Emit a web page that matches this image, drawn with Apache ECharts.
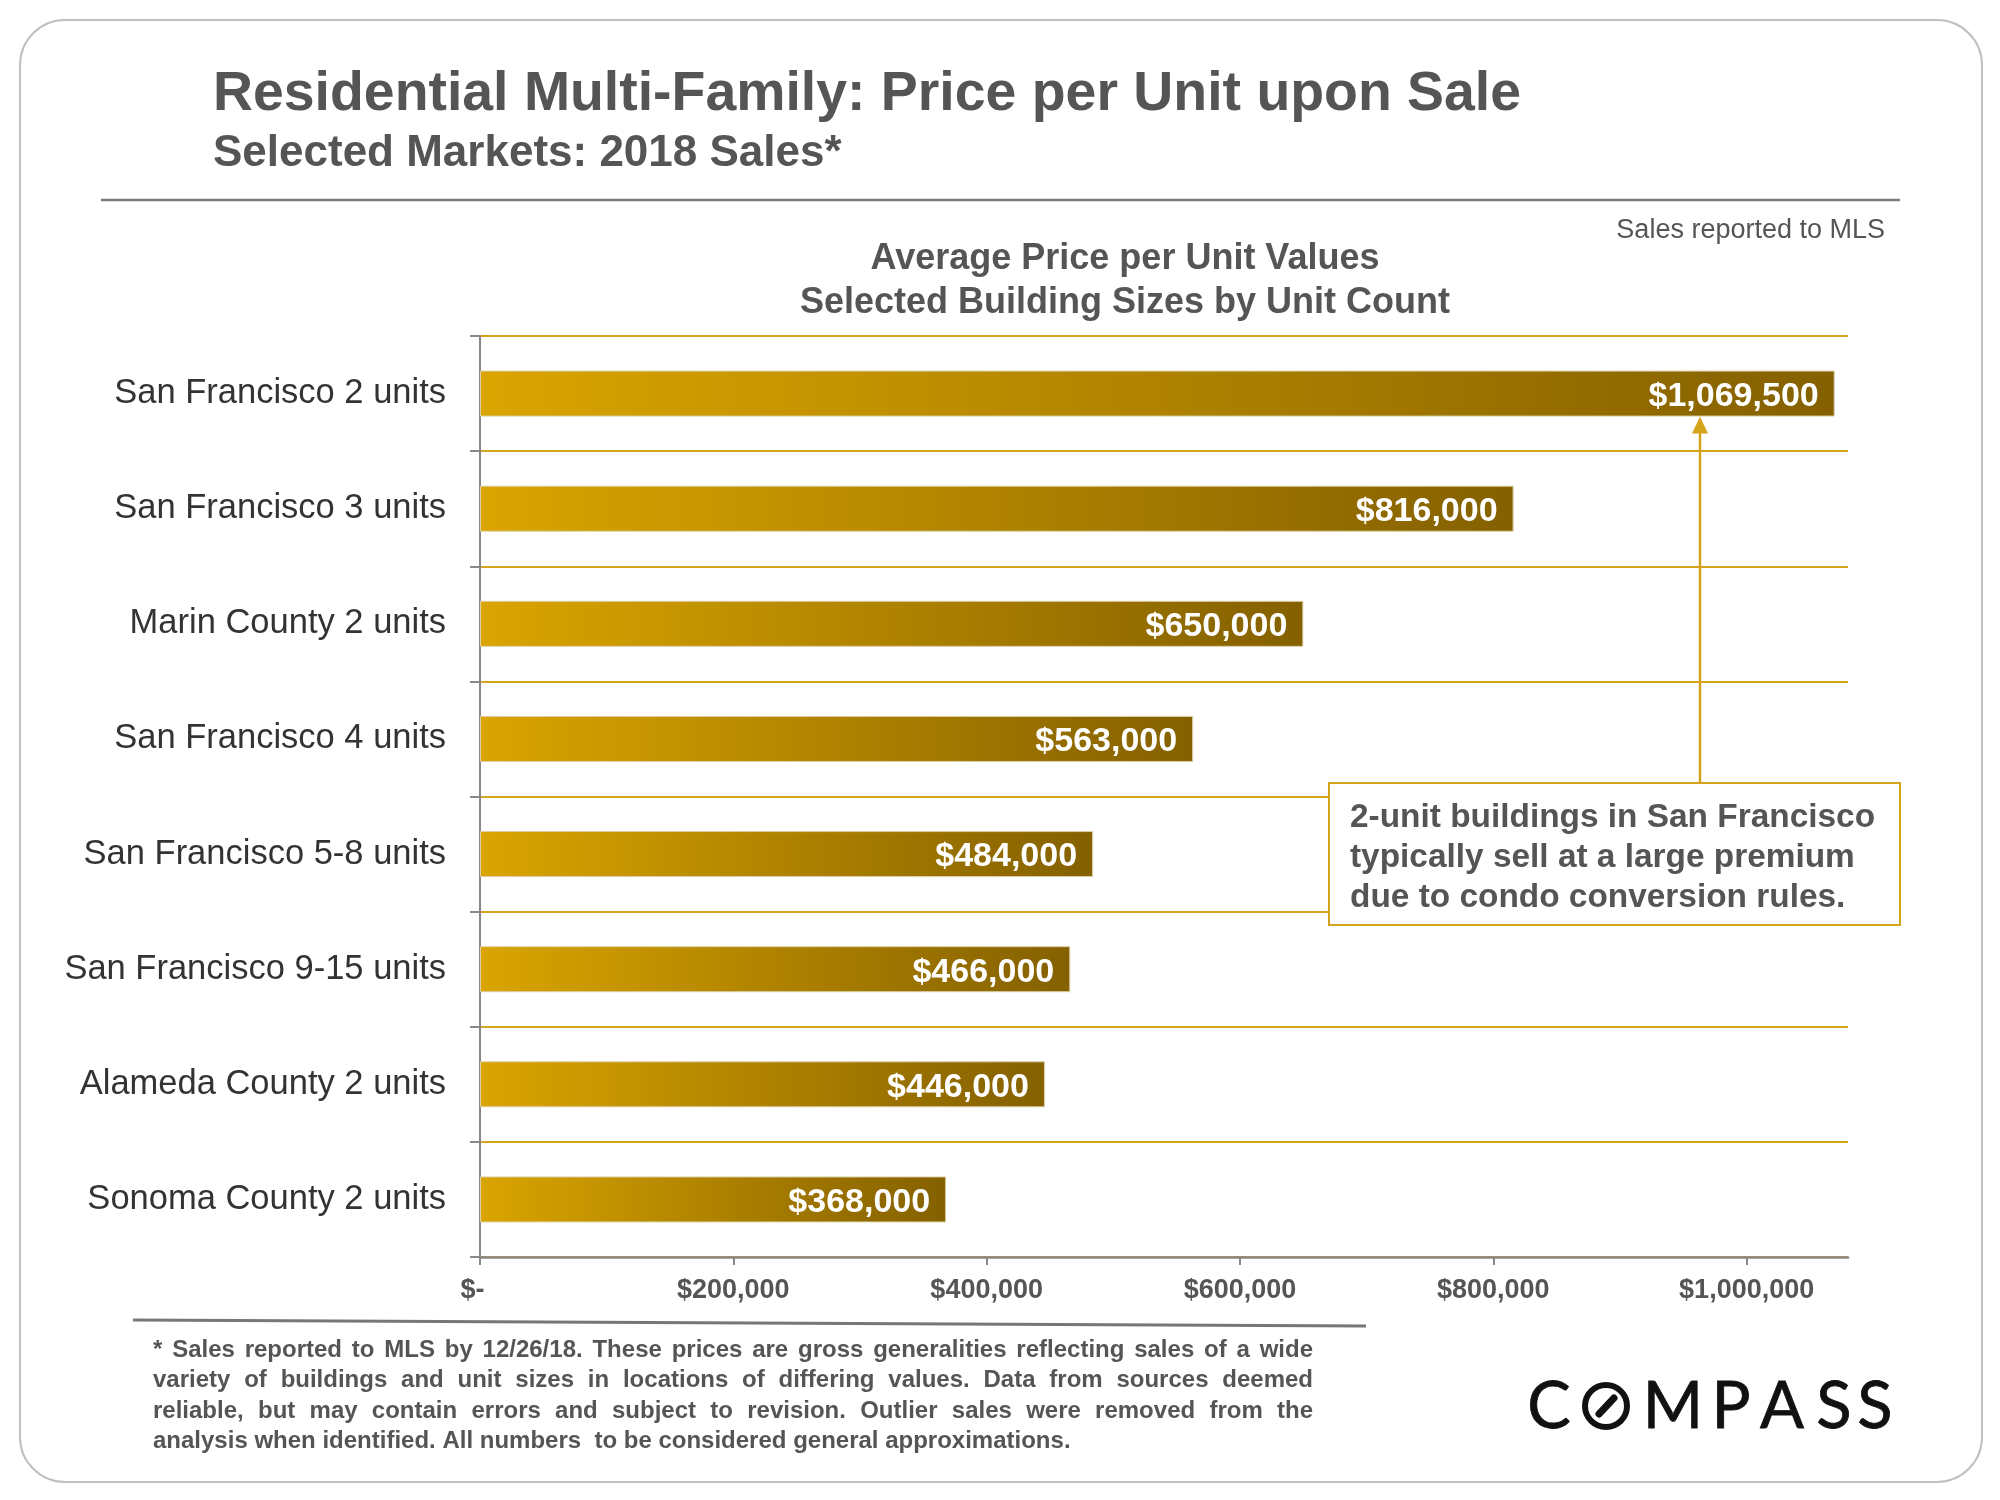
<!DOCTYPE html>
<html>
<head>
<meta charset="utf-8">
<script src="https://cdn.jsdelivr.net/npm/echarts@6/dist/echarts.min.js"></script>
<style>
html,body{margin:0;padding:0;background:#fff;}
#chart{width:2000px;height:1500px;}
</style>
</head>
<body>
<div id="chart"></div>
<script>
const categories = [
  'San Francisco 2 units',
  'San Francisco 3 units',
  'Marin County 2 units',
  'San Francisco 4 units',
  'San Francisco 5-8 units',
  'San Francisco 9-15 units',
  'Alameda County 2 units',
  'Sonoma County 2 units'
];
const values = [1069500, 816000, 650000, 563000, 484000, 466000, 446000, 368000];
const xTickValues = [0, 200000, 400000, 600000, 800000, 1000000];
const xTickLabels = ['$-  ', '$200,000', '$400,000', '$600,000', '$800,000', '$1,000,000'];

const titleText = 'Residential Multi-Family: Price per Unit upon Sale';
const subtitleText = 'Selected Markets: 2018 Sales*';
const chartTitleLines = ['Average Price per Unit Values', 'Selected Building Sizes by Unit Count'];
const sourceNote = 'Sales reported to MLS';
const annotationLines = ['2-unit buildings in San Francisco', 'typically sell at a large premium', 'due to condo conversion rules.'];
const footnoteLines = [
  '* Sales reported to MLS by 12/26/18. These prices are gross generalities reflecting sales of a wide',
  'variety of buildings and unit sizes in locations of differing values. Data from sources deemed',
  'reliable, but may contain errors and subject to revision. Outlier sales were removed from the',
  'analysis when identified. All numbers  to be considered general approximations.'
];

const FONT = '"Liberation Sans", Arial, sans-serif';
const GOLD = '#D4A41C';
const GRAY_TEXT = '#555555';

const chart = echarts.init(document.getElementById('chart'), null, {renderer: 'canvas'});

function fmtMoney(v) { return '$' + v.toLocaleString('en-US'); }

// Footnote justified words
const footFont = 'bold 24px ' + FONT;
const cv = document.createElement('canvas').getContext('2d');
cv.font = footFont;
const footLeft = 153, footRight = 1313, footTop = 1350, footPitch = 30.5;
const footGraphics = [];
footnoteLines.forEach((line, i) => {
  const y = footTop + i * footPitch;
  if (i === footnoteLines.length - 1) {
    footGraphics.push({type: 'text', x: footLeft, y: y, style: {text: line, font: footFont, fill: GRAY_TEXT, align: 'left', verticalAlign: 'middle'}});
    return;
  }
  const words = line.split(' ');
  const widths = words.map(w => cv.measureText(w).width);
  const total = widths.reduce((a, b) => a + b, 0);
  const gap = (footRight - footLeft - total) / (words.length - 1);
  let x = footLeft;
  words.forEach((w, k) => {
    footGraphics.push({type: 'text', x: x, y: y, style: {text: w, font: footFont, fill: GRAY_TEXT, align: 'left', verticalAlign: 'middle'}});
    x += widths[k] + gap;
  });
});

// Logo letters
const logoFont = 'normal 65px Lato, "Noto Sans", sans-serif';
const logoLetters = [
  ['C', 1549], ['M', 1673], ['P', 1731], ['A', 1782], ['S', 1834], ['S', 1875]
];
const logoGraphics = logoLetters.map(([ch, cx]) => ({
  type: 'text', x: cx, y: 1407,
  style: {text: ch, font: logoFont, fill: '#111', align: 'center', verticalAlign: 'middle', stroke: '#111', lineWidth: 0.8}
}));
logoGraphics.push({type: 'circle', shape: {cx: 1606, cy: 1406, r: 21}, style: {fill: 'none', stroke: '#111', lineWidth: 6}});
logoGraphics.push({type: 'line', shape: {x1: 1599, y1: 1414, x2: 1614, y2: 1398}, style: {stroke: '#111', lineWidth: 7, lineCap: 'round'}});

const option = {
  animation: false,
  backgroundColor: '#ffffff',
  grid: {left: 480, right: 152, top: 336, bottom: 243, containLabel: false},
  xAxis: {
    type: 'value', min: 0, max: 1080000, interval: 200000,
    axisLine: {show: true, lineStyle: {color: '#888', width: 2.5}},
    axisTick: {show: true, length: 8, lineStyle: {color: '#888', width: 2}},
    splitLine: {show: false},
    axisLabel: {
      showMaxLabel: false, margin: 20, color: GRAY_TEXT, fontSize: 27, fontWeight: 'bold', fontFamily: FONT,
      formatter: v => { const k = xTickValues.indexOf(v); return k >= 0 ? xTickLabels[k] : ''; }
    }
  },
  yAxis: {
    type: 'category', inverse: true, data: categories,
    axisLine: {show: true, lineStyle: {color: '#888', width: 2}},
    axisTick: {show: true, length: 10, lineStyle: {color: '#888', width: 2}},
    splitLine: {show: true, lineStyle: {color: GOLD, width: 2}},
    axisLabel: {margin: 34, color: '#333', fontSize: 34.5, fontFamily: FONT}
  },
  series: [{
    type: 'bar', data: values, barWidth: 46,
    itemStyle: {
      color: new echarts.graphic.LinearGradient(0, 0, 1, 0, [
        {offset: 0, color: '#DAA500'}, {offset: 1, color: '#846000'}
      ]),
      borderColor: '#dccfa6', borderWidth: 1
    },
    label: {
      show: true, position: 'insideRight', distance: 16, offset: [0, 3], color: '#fff',
      fontSize: 34, fontWeight: 'bold', fontFamily: FONT,
      formatter: p => fmtMoney(p.value)
    },
    z: 2
  }],
  graphic: []
};
chart.setOption(option);

// Annotation arrow tip at bottom of first bar
const barCenterY = chart.convertToPixel({yAxisIndex: 0}, categories[0]);
const tipY = barCenterY + 23;
const arrowX = 1700;

const graphics = [
  {type: 'rect', shape: {x: 20, y: 20, width: 1962, height: 1462, r: 45}, style: {fill: 'none', stroke: '#c0c0c0', lineWidth: 2}, z: 0},
  {type: 'text', x: 213, y: 95, style: {text: titleText, font: 'bold 55.4px ' + FONT, fill: GRAY_TEXT, align: 'left', verticalAlign: 'middle'}},
  {type: 'text', x: 213, y: 153.5, style: {text: subtitleText, font: 'bold 44px ' + FONT, fill: GRAY_TEXT, align: 'left', verticalAlign: 'middle'}},
  {type: 'line', shape: {x1: 101, y1: 200, x2: 1900, y2: 200}, style: {stroke: '#7a7a7a', lineWidth: 2.5}},
  {type: 'text', x: 1885, y: 231, style: {text: sourceNote, font: '27px ' + FONT, fill: GRAY_TEXT, align: 'right', verticalAlign: 'middle'}},
  {type: 'text', x: 1125, y: 259, style: {text: chartTitleLines[0], font: 'bold 36px ' + FONT, fill: GRAY_TEXT, align: 'center', verticalAlign: 'middle'}},
  {type: 'text', x: 1125, y: 303, style: {text: chartTitleLines[1], font: 'bold 36px ' + FONT, fill: GRAY_TEXT, align: 'center', verticalAlign: 'middle'}},
  {type: 'rect', shape: {x: 1329, y: 783, width: 571, height: 142}, style: {fill: '#fff', stroke: GOLD, lineWidth: 2}, z: 100},
  {type: 'line', shape: {x1: arrowX, y1: 783, x2: arrowX, y2: tipY + 14}, style: {stroke: GOLD, lineWidth: 2.5}, z: 100},
  {type: 'polygon', shape: {points: [[arrowX, tipY], [arrowX - 8, tipY + 17], [arrowX + 8, tipY + 17]]}, style: {fill: GOLD}, z: 100},
  {type: 'line', shape: {x1: 133, y1: 1320, x2: 1366, y2: 1326}, style: {stroke: '#777', lineWidth: 3}}
];
annotationLines.forEach((t, i) => {
  graphics.push({type: 'text', x: 1350, y: 818 + i * 40, z: 101, style: {text: t, font: 'bold 33.4px ' + FONT, fill: GRAY_TEXT, align: 'left', verticalAlign: 'middle'}});
});
chart.setOption({graphic: graphics.concat(footGraphics, logoGraphics)});
</script>
</body>
</html>
